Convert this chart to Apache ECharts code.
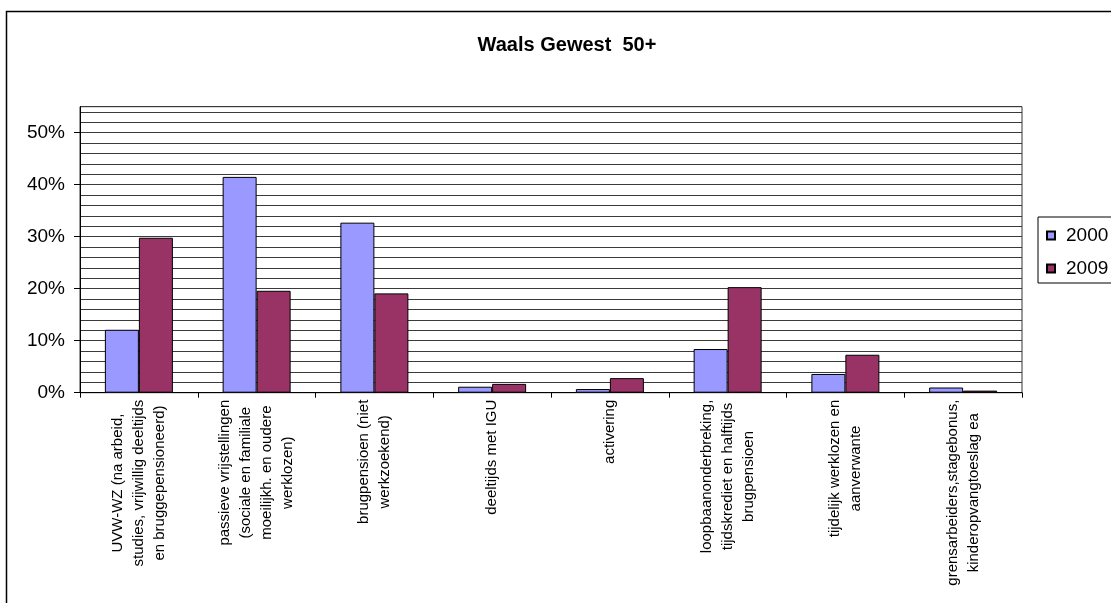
<!DOCTYPE html>
<html>
<head>
<meta charset="utf-8">
<script src="https://cdn.jsdelivr.net/npm/echarts@6/dist/echarts.min.js"></script>
<style>
html,body{margin:0;padding:0;background:#fff;}
#chart{width:1111px;height:603px;}
</style>
</head>
<body>
<div id="chart"></div>
<script>
const categories = [
  "UVW-WZ (na arbeid,\nstudies, vrijwillig deeltijds\nen bruggepensioneerd)",
  "passieve vrijstellingen\n(sociale en familiale\nmoeilijkh. en oudere\nwerklozen)",
  "brugpensioen (niet\nwerkzoekend)",
  "deeltijds met IGU",
  "activering",
  "loopbaanonderbreking,\ntijdskrediet en halftijds\nbrugpensioen",
  "tijdelijk werklozen en\naanverwante",
  "grensarbeiders,stagebonus,\nkinderopvangtoeslag ea"
];
const values2000 = [12.1, 41.5, 32.7, 1.15, 0.7, 8.4, 3.6, 1.0];
const values2009 = [29.8, 19.6, 19.1, 1.7, 2.8, 20.3, 7.3, 0.4];
const seriesNames = ["2000", "2009"];
const yTickLabels = [0, 10, 20, 30, 40, 50];
const titleText = "Waals Gewest  50+";

const FONT = "'Liberation Sans', Arial, sans-serif";
const chart = echarts.init(document.getElementById('chart'), null, {renderer: 'canvas'});

const option = {
  backgroundColor: '#fff',
  animation: false,
  graphic: [
    {type: 'rect', shape: {x: 6.5, y: 11.5, width: 1300, height: 800},
     style: {fill: 'none', stroke: '#000', lineWidth: 1.5}, silent: true, z: -1},
    {type: 'text', x: 567, y: 35,
     style: {text: titleText, fontFamily: FONT, fontSize: 20, fontWeight: 'bold', fill: '#000',
             textAlign: 'center', textVerticalAlign: 'top'}}
  ],
  legend: {
    orient: 'vertical',
    left: 1038, top: 217,
    data: seriesNames,
    itemWidth: 8, itemHeight: 8,
    itemGap: 14,
    icon: 'rect',
    padding: [9, 40, 5, 8],
    borderColor: '#000', borderWidth: 1,
    backgroundColor: '#fff',
    textStyle: {fontFamily: FONT, fontSize: 19, color: '#000', padding: [0, 0, 0, 6]}
  },
  grid: {
    left: 80, right: 89, top: 106.7, bottom: 210.3,
    show: true, borderColor: '#333', borderWidth: 1, backgroundColor: 'transparent',
    containLabel: false
  },
  xAxis: {
    type: 'category',
    data: categories,
    axisLine: {lineStyle: {color: '#000', width: 1}},
    axisTick: {show: true, length: 5, lineStyle: {color: '#000'}, alignWithLabel: false},
    axisLabel: {
      interval: 0, rotate: 90, margin: 7,
      fontFamily: FONT, fontSize: 15, color: '#000',
      formatter: v => v.split('\n').map(l => '{c|' + l + '}').join('\n'),
      rich: {c: {align: 'center', fontFamily: FONT, fontSize: 15, lineHeight: 21, color: '#000'}}
    }
  },
  yAxis: [
    {
      type: 'value', min: 0, max: 55, interval: 2, position: 'left',
      axisLine: {show: false}, axisTick: {show: false}, axisLabel: {show: false},
      splitLine: {show: true, lineStyle: {color: '#3a3a3a', width: 1}}
    },
    {
      type: 'value', min: 0, max: 55, interval: 10, position: 'left',
      axisLine: {show: true, lineStyle: {color: '#000', width: 1}},
      axisTick: {show: true, length: 6, lineStyle: {color: '#000'}, customValues: yTickLabels},
      splitLine: {show: false},
      axisLabel: {
        margin: 15, fontFamily: FONT, fontSize: 19, color: '#000',
        customValues: yTickLabels,
        formatter: v => v + '%'
      }
    }
  ],
  series: [
    {
      name: seriesNames[0], type: 'bar', data: values2000, yAxisIndex: 0,
      barWidth: 34, barGap: '0%',
      itemStyle: {color: '#9999FF', borderColor: '#000', borderWidth: 1}
    },
    {
      name: seriesNames[1], type: 'bar', data: values2009, yAxisIndex: 0,
      barWidth: 34, barGap: '0%',
      itemStyle: {color: '#993366', borderColor: '#000', borderWidth: 1}
    }
  ]
};
chart.setOption(option);
</script>
</body>
</html>
